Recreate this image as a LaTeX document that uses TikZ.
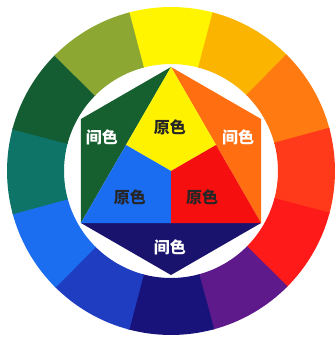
\documentclass[tikz,border=0pt]{standalone}
\usepackage{fontspec}
\newfontfamily\cjk{Noto Sans CJK SC}
\definecolor{cY}{HTML}{FFF500}
\definecolor{cYO}{HTML}{FBB400}
\definecolor{cO}{HTML}{FF7A10}
\definecolor{cRO}{HTML}{FF3A1A}
\definecolor{cR}{HTML}{FF1A1A}
\definecolor{cP}{HTML}{5E1A8A}
\definecolor{cN}{HTML}{18137A}
\definecolor{cB}{HTML}{1F3DC0}
\definecolor{cLB}{HTML}{1C6EF0}
\definecolor{cT}{HTML}{0E7468}
\definecolor{cG}{HTML}{145C32}
\definecolor{cYG}{HTML}{8DA832}
\definecolor{iG}{HTML}{15602E}
\definecolor{iY}{HTML}{FFF200}
\definecolor{iO}{HTML}{FF6E10}
\definecolor{iB}{HTML}{1A6CF0}
\definecolor{iR}{HTML}{F50F0F}
\definecolor{iN}{HTML}{1A136E}
\tikzset{
  lbl/.style={font=\cjk\bfseries\fontsize{16}{16}\selectfont, inner sep=0pt},
  lblw/.style={lbl, text=white},
  lblk/.style={lbl, text=black!85},
}
\begin{document}
\begin{tikzpicture}[x=1pt,y=1pt]
\useasboundingbox[fill=white] (-171,-166) rectangle (165,171);
% outer ring
\foreach \a/\c in {90/cY,60/cYO,30/cO,0/cRO,-30/cR,-60/cP,-90/cN,-120/cB,-150/cLB,180/cT,150/cG,120/cYG}{
  \fill[\c] (\a-15.3:164) arc[start angle=\a-15.3, end angle=\a+15.3, radius=164]
    -- (\a+15.3:107) arc[start angle=\a+15.3, end angle=\a-15.3, radius=107] -- cycle;
}
% hexagon corners
\coordinate (T) at (90:104);
\coordinate (UL) at (150:104);
\coordinate (LL) at (210:104);
\coordinate (B) at (270:104);
\coordinate (LR) at (330:104);
\coordinate (UR) at (30:104);
\coordinate (C) at (0,0);
\coordinate (ML) at (150:52);
\coordinate (MR) at (30:52);
\coordinate (MB) at (270:52);
% secondary triangles
\fill[iG] (T) -- (UL) -- (LL) -- cycle;
\fill[iO] (T) -- (UR) -- (LR) -- cycle;
\fill[iN] (LL) -- (B) -- (LR) -- cycle;
% primary regions
\fill[iY] (T) -- (ML) -- (C) -- (MR) -- cycle;
\fill[iB] (ML) -- (C) -- (MB) -- (LL) -- cycle;
\fill[iR] (MR) -- (C) -- (MB) -- (LR) -- cycle;
% labels
\node[lblw] (sl) at (-69,34) {间色};
\node[lblk] (py) at (-1,44) {原色};
\node[lblw] (sr) at (67,34) {间色};
\node[lblk] (pb) at (-41,-26) {原色};
\node[lblk] (pr) at (31,-26) {原色};
\node[lblw] (sb) at (-1,-76) {间色};
\end{tikzpicture}
\end{document}
